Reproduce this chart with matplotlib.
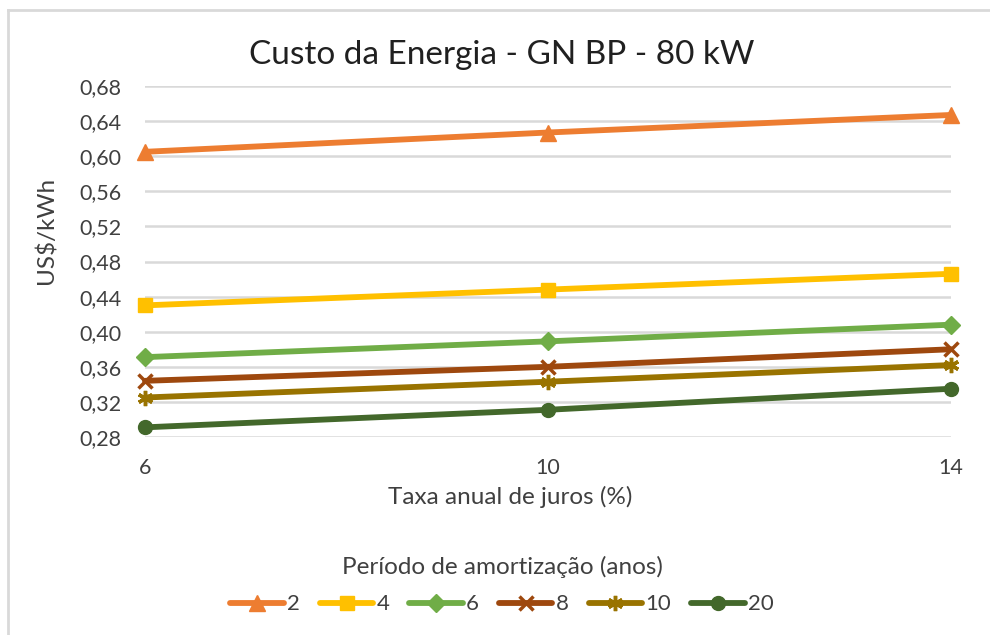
import matplotlib
matplotlib.use("Agg")
import matplotlib.pyplot as plt
from matplotlib.lines import Line2D

plt.rcParams['font.family'] = ['Lato', 'DejaVu Sans']

# Annual interest rate (%)
taxa = [6, 10, 14]

# Amortization periods (years) and energy cost series (US$/kWh)
periodos = ["2", "4", "6", "8", "10", "20"]
custo_2 = [0.605, 0.627, 0.647]
custo_4 = [0.430, 0.448, 0.466]
custo_6 = [0.371, 0.389, 0.408]
custo_8 = [0.344, 0.360, 0.380]
custo_10 = [0.325, 0.343, 0.362]
custo_20 = [0.291, 0.311, 0.335]

y_ticks = [0.28, 0.32, 0.36, 0.40, 0.44, 0.48, 0.52, 0.56, 0.60, 0.64, 0.68]
y_tick_labels = ["0,28", "0,32", "0,36", "0,40", "0,44", "0,48", "0,52",
                 "0,56", "0,60", "0,64", "0,68"]

series = [custo_2, custo_4, custo_6, custo_8, custo_10, custo_20]
colors = ["#ED7D31", "#FFC000", "#70AD47", "#9E480E", "#997300", "#43682B"]
markers = ["^", "s", "D", "x", (6, 2, 0), "o"]
msizes = [11, 10, 9, 10, 11, 10]

W, H = 990, 635
fig = plt.figure(figsize=(W / 100, H / 100), dpi=100)
ax = fig.add_axes([145 / W, 1 - 437 / H, (951 - 145) / W, (437 - 86) / H])

for lab, vals, c, m, ms in zip(periodos, series, colors, markers, msizes):
    ax.plot(taxa, vals, color=c, lw=4.2, marker=m, markersize=ms,
            markeredgewidth=2.5 if m in ("x", (6, 2, 0)) else 1,
            markeredgecolor=c, markerfacecolor=c, label=lab,
            clip_on=False, zorder=3, solid_capstyle='round')

ax.set_xlim(6, 14)
ax.set_ylim(0.28, 0.68)
ax.set_xticks(taxa)
ax.set_xticklabels([str(t) for t in taxa])
ax.set_yticks(y_ticks)
ax.set_yticklabels(y_tick_labels)
ax.tick_params(length=0, labelsize=15.5, colors="#404040")
ax.tick_params(axis='y', pad=17)
ax.tick_params(axis='x', pad=15)
ax.grid(axis='y', color="#d9d9d9", lw=1.8, zorder=0)
for s in ax.spines.values():
    s.set_visible(False)

fig.text(502 / W, 1 - 55 / H, "Custo da Energia - GN BP - 80 kW",
         ha='center', va='center', fontsize=24, color="#202020")
fig.text(510 / W, 1 - 497 / H, "Taxa anual de juros (%)",
         ha='center', va='center', fontsize=17.5, color="#404040")
fig.text(46 / W, 1 - 230 / H, "US$/kWh", rotation=90,
         ha='center', va='center', fontsize=17.5, color="#404040")

leg = fig.legend(loc='center', bbox_to_anchor=(502 / W, 1 - 585 / H), ncol=6,
                 frameon=False, fontsize=16, title="Período de amortização (anos)",
                 title_fontsize=17.5, handlelength=2.4, columnspacing=0.9,
                 handletextpad=0.15, labelcolor="#404040")
leg.get_title().set_color("#404040")
leg._legend_box.sep = 12

# Chart area frame (left and top edges)
fig.add_artist(Line2D([8 / W, 8 / W], [0, 1 - 10 / H], transform=fig.transFigure,
                      color="#d9d9d9", lw=2))
fig.add_artist(Line2D([8 / W, 1], [1 - 10 / H, 1 - 10 / H], transform=fig.transFigure,
                      color="#d9d9d9", lw=2))

fig.savefig("out.png", dpi=100, facecolor="white")
